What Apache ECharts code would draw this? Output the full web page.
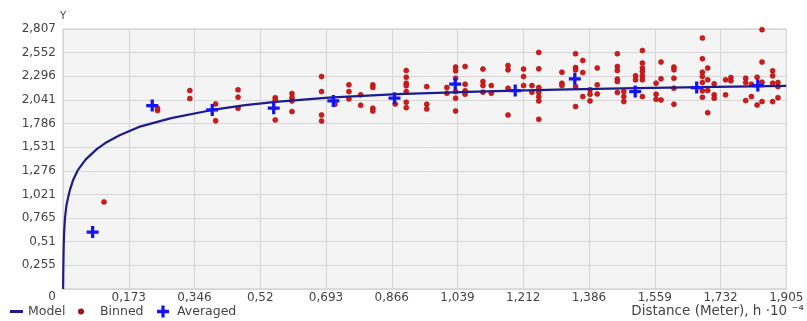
<!DOCTYPE html>
<html>
<head>
<meta charset="utf-8">
<script src="https://cdn.jsdelivr.net/npm/echarts@6/dist/echarts.min.js"></script>
<style>html,body{margin:0;padding:0;background:#fff}#c{width:807px;height:321px}</style>
</head>
<body>
<div id="c"></div>
<script>
const xTickLabels = ['0','0,173','0,346','0,52','0,693','0,866','1,039','1,212','1,386','1,559','1,732','1,905'];
const yTickLabels = ['0','0,255','0,51','0,765','1,021','1,276','1,531','1,786','2,041','2,296','2,552','2,807'];
const xMax = 1.905;
const yMax = 2.807;

const modelX = [0.0003,0.0008,0.0015,0.0026,0.005,0.009,0.013,0.018,0.027,0.039,0.06,0.089,0.115,0.149,0.2,0.285,0.393,0.48,0.56,0.699,0.88,1.09,1.30,1.51,1.72,1.905];
const modelY = [0,0.2,0.4,0.58,0.76,0.9,0.98,1.067,1.18,1.283,1.40,1.51,1.585,1.66,1.75,1.845,1.933,1.985,2.02,2.066,2.103,2.131,2.152,2.168,2.182,2.193];

const avgX = [0.078,0.235,0.393,0.555,0.712,0.873,1.033,1.191,1.348,1.507,1.669,1.830];
const avgY = [0.615,1.980,1.933,1.952,2.031,2.060,2.211,2.142,2.269,2.131,2.175,2.196];

const binnedX = [0.108,0.249,0.249,0.334,0.334,0.402,0.402,0.461,0.461,0.461,0.559,0.559,0.559,0.603,0.603,0.603,0.603,
0.681,0.681,0.681,0.681,0.753,0.753,0.753,0.716,0.784,0.784,0.816,0.816,0.816,0.816,0.875,
0.904,0.904,0.904,0.904,0.904,0.904,0.904,0.958,0.958,0.958,1.011,1.011,
1.034,1.034,1.034,1.034,1.034,1.034,1.059,1.059,1.059,1.059,1.106,1.106,1.106,1.106,1.128,1.128,
1.172,1.172,1.172,1.172,1.213,1.213,1.213,1.235,1.235,1.253,1.253,1.253,1.253,1.253,1.253,1.253,
1.314,1.314,1.314,1.350,1.350,1.350,1.350,1.350,1.369,1.369,1.369,1.388,1.388,1.388,1.407,1.407,1.407,
1.460,1.460,1.460,1.460,1.460,1.460,1.477,1.477,1.477,
1.526,1.526,1.526,1.526,1.526,1.526,1.526,1.508,1.508,1.562,1.562,1.562,1.575,1.575,1.575,
1.609,1.609,1.609,1.609,1.609,1.684,1.684,1.684,1.684,1.684,1.684,1.684,1.698,1.698,1.698,1.698,
1.715,1.715,1.715,1.745,1.745,1.759,1.759,1.798,1.798,1.798,1.813,1.813,1.828,1.828,
1.841,1.841,1.841,1.841,1.869,1.869,1.869,1.869,1.883,1.883,1.883];
const binnedY = [0.940,1.926,1.952,2.142,2.056,1.998,1.817,2.150,2.071,1.952,2.066,2.041,1.825,2.110,2.066,2.031,1.915,
2.294,2.131,1.879,1.814,2.204,2.131,2.052,1.995,2.096,1.984,2.204,2.175,1.952,1.922,1.998,
2.359,2.287,2.222,2.193,2.131,2.017,1.958,2.185,1.995,1.944,2.175,2.114,
2.396,2.355,2.276,2.131,2.060,1.922,2.402,2.211,2.139,2.103,2.374,2.240,2.196,2.125,2.196,2.114,
2.413,2.366,2.168,1.879,2.374,2.294,2.196,2.196,2.125,2.554,2.377,2.175,2.125,2.077,2.031,1.832,
2.341,2.222,2.196,2.540,2.391,2.366,2.185,1.969,2.467,2.337,2.077,2.150,2.103,2.031,2.385,2.204,2.106,
2.540,2.402,2.359,2.266,2.240,2.121,2.131,2.077,2.023,
2.575,2.439,2.385,2.348,2.301,2.258,2.077,2.301,2.258,2.222,2.103,2.049,2.450,2.269,2.041,
2.396,2.366,2.276,2.168,1.995,2.710,2.486,2.341,2.294,2.229,2.139,2.071,2.385,2.258,2.142,1.904,
2.215,2.096,2.060,2.258,2.096,2.283,2.247,2.276,2.229,2.034,2.211,2.077,2.287,1.987,
2.800,2.450,2.233,2.023,2.355,2.301,2.222,2.023,2.229,2.185,2.066];

const xStep = xMax / 11;
const yStep = yMax / 11;
const zip = (a, b) => a.map((v, i) => [v, b[i]]);
const crossPath = 'path://M4,0H7V4H11V7H7V11H4V7H0V4H4Z';
const font = 'DejaVu Sans';
const txtColor = '#444';

const chart = echarts.init(document.getElementById('c'), null, {renderer: 'canvas'});
chart.setOption({
  animation: false,
  backgroundColor: '#ffffff',
  textStyle: {fontFamily: font},
  grid: {left: 63, right: 16, top: 29, bottom: 32, show: true, backgroundColor: '#f4f4f4', borderColor: '#c4c4c4', borderWidth: 1},
  legend: [
    {data: [{name: 'Model', icon: 'rect'}], left: 10, top: 305, padding: 0, itemWidth: 13, itemHeight: 3, itemGap: 0,
     textStyle: {fontFamily: font, fontSize: 12.5, color: txtColor}},
    {data: [{name: 'Binned', icon: 'circle'}], left: 78, top: 305, padding: 0, itemWidth: 4, itemHeight: 4, itemGap: 0,
     textStyle: {fontFamily: font, fontSize: 12.5, color: txtColor, padding: [0, 0, 0, 12]}},
    {data: [{name: 'Averaged', icon: crossPath}], left: 157, top: 305, padding: 0, itemWidth: 12, itemHeight: 12, itemGap: 0,
     textStyle: {fontFamily: font, fontSize: 12.5, color: txtColor, padding: [0, 0, 0, 3]}}
  ],
  xAxis: {
    type: 'value', min: 0, max: xMax, interval: xStep,
    name: 'Distance (Meter), h ·10 ⁻⁴', nameLocation: 'end', nameGap: -155,
    nameTextStyle: {fontFamily: font, fontSize: 13.5, color: txtColor, align: 'left', verticalAlign: 'top', padding: [15, 0, 0, 0]},
    axisLine: {show: false}, axisTick: {show: false},
    axisLabel: {fontFamily: font, fontSize: 12, color: txtColor, margin: 3, showMinLabel: true, showMaxLabel: true,
      formatter: v => { const i = Math.round(v / xStep); return i === 0 ? '' : xTickLabels[i]; }},
    splitLine: {show: true, lineStyle: {color: '#d6d6d6', width: 1}}
  },
  yAxis: {
    type: 'value', min: 0, max: yMax, interval: yStep,
    name: 'Y', nameLocation: 'end', nameGap: 8,
    nameTextStyle: {fontFamily: font, fontSize: 10, color: txtColor},
    axisLine: {show: false}, axisTick: {show: false},
    axisLabel: {fontFamily: font, fontSize: 12, color: txtColor, margin: 7, showMinLabel: true, showMaxLabel: true,
      formatter: v => { const i = Math.round(v / yStep); return i === 0 ? '{z|0}' : yTickLabels[i]; },
      rich: {z: {fontFamily: font, fontSize: 12, color: txtColor, padding: [16, 0, 0, 0]}}},
    splitLine: {show: true, lineStyle: {color: '#d6d6d6', width: 1}}
  },
  series: [
    {name: 'Model', type: 'line', data: zip(modelX, modelY), showSymbol: false, symbol: 'none',
     smooth: false, lineStyle: {color: '#1c1c8a', width: 2.2, join: 'round'}, itemStyle: {color: '#1c1c8a'}, z: 3},
    {name: 'Binned', type: 'scatter', data: zip(binnedX, binnedY), symbol: 'circle', symbolSize: 5,
     itemStyle: {color: '#d41a1a', borderColor: '#9a0f0f', borderWidth: 0.6, opacity: 1}, z: 2},
    {name: 'Averaged', type: 'scatter', data: zip(avgX, avgY), symbol: crossPath, symbolSize: 12,
     itemStyle: {color: '#1414f0', opacity: 1}, z: 4}
  ]
});
</script>
</body>
</html>
